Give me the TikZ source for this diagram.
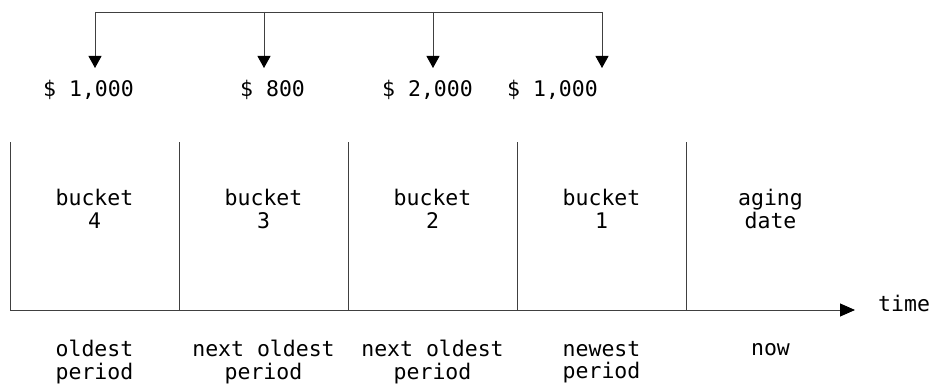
\documentclass[tikz,border=0pt]{standalone}
\usepackage{fontspec}
\setmonofont{DejaVu Sans Mono}
\usetikzlibrary{arrows.meta, positioning, calc}
\definecolor{inkc}{RGB}{0,0,0}
\definecolor{rulec}{RGB}{64,64,64}
\tikzset{
  rule/.style={draw=rulec, line width=0.9pt},
  arr/.style={rule, -{Triangle[length=12pt, width=13pt, color=black]}},
  axis/.style={rule, -{Triangle[length=15pt, width=13pt, color=black]}},
  lbl/.style={font=\ttfamily\fontsize{21.5}{22.5}\selectfont, text=inkc,
              inner sep=0pt, align=center},
  amount/.style={lbl, anchor=base west},
}
\begin{document}
\begin{tikzpicture}[x=1pt, y=1pt]
  \useasboundingbox (0,0) rectangle (933,383);
  % time line and the period dividers
  \coordinate (t0) at (10,73);
  \coordinate (tend) at (855,73);
  \draw[axis] (t0) -- (tend);
  \node[lbl, anchor=base west] (time) at (878,72) {time};
  \foreach \x [count=\i] in {10,179,348,517,686}{
    \coordinate (d\i) at (\x,73);
    \coordinate (u\i) at (\x,241);
    \draw[rule] (d\i) -- (u\i);
  }
  % buckets
  \node[lbl] (b4) at (94.5,174) {bucket\\4};
  \node[lbl] (b3) at (263.5,174) {bucket\\3};
  \node[lbl] (b2) at (432.5,174) {bucket\\2};
  \node[lbl] (b1) at (601.5,174) {bucket\\1};
  \node[lbl] (aging) at (770.5,174) {aging\\date};
  % periods
  \node[lbl] (p4) at (94.5,21) {oldest\\period};
  \node[lbl] (p3) at (263.5,21) {next oldest\\period};
  \node[lbl] (p2) at (432.5,21) {next oldest\\period};
  \node[lbl] (p1) at (601.5,21) {newest\\period};
  \node[lbl, anchor=base] (now) at (770.5,28) {now};
  % amounts
  \node[amount] (a4) at (43,286) {\$ 1,000};
  \node[amount] (a3) at (240,286) {\$ 800};
  \node[amount] (a2) at (382,286) {\$ 2,000};
  \node[amount] (a1) at (507,286) {\$ 1,000};
  % spreading the amounts over the buckets
  \coordinate (s4) at (95,371);
  \coordinate (s3) at (264,371);
  \coordinate (s2) at (433,371);
  \coordinate (s1) at (602,371);
  \draw[rule] (s4) -- (s1);
  \foreach \n/\x in {4/95,3/264,2/433,1/602}{
    \coordinate (e\n) at (\x,315);
    \draw[arr] (s\n) -- (e\n);
  }
\end{tikzpicture}
\end{document}
